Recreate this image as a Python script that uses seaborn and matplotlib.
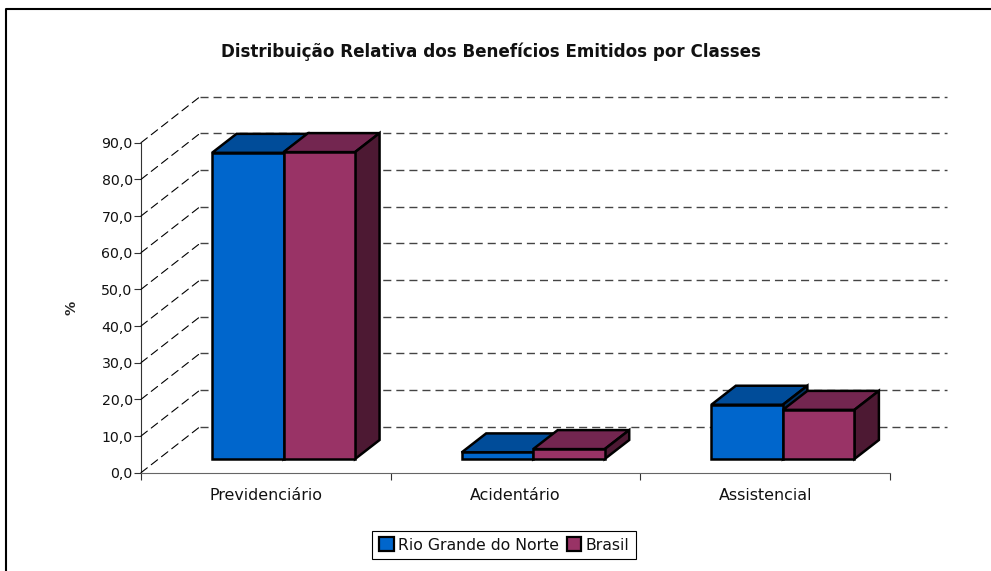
import pandas as pd
import numpy as np
import matplotlib.pyplot as plt
import seaborn as sns
from matplotlib.lines import Line2D
from matplotlib.patches import Patch, Polygon, ConnectionPatch

categories = ['Previdenciário', 'Acidentário', 'Assistencial']
series_names = ['Rio Grande do Norte', 'Brasil']
rn_values = [83.5, 1.8, 14.8]
br_values = [83.7, 2.7, 13.4]
y_ticks = [0, 10, 20, 30, 40, 50, 60, 70, 80, 90]

W, H = 991, 571
front_col = ['#0066cc', '#993366']
top_col = ['#004c99', '#732650']
side_col = ['#003366', '#4d1933']

sns.set_style('white')
plt.rcParams['font.family'] = ['DejaVu Sans']


def px_axes(fig, left, top, right, bottom):
    return fig.add_axes([left / W, 1 - bottom / H, (right - left) / W, (bottom - top) / H])


df = pd.DataFrame({'classe': categories * 2,
                   'serie': [series_names[0]] * 3 + [series_names[1]] * 3,
                   'valor': rn_values + br_values})

fig = plt.figure(figsize=(W / 100, H / 100), dpi=100)

# back wall, front axis and bars each get their own axes, shifted to fake the depth
ax_back = px_axes(fig, 200, 96.7, 947, 426.7)
ax = px_axes(fig, 141, 142.7, 890, 472.7)
ax_bars = px_axes(fig, 158.7, 129, 907.7, 459)

for a in (ax_back, ax, ax_bars):
    a.set_xlim(-0.5, 2.5)
    a.set_ylim(0, 90)
    a.patch.set_alpha(0)

ax_back.axis('off')
for v in y_ticks:
    ax_back.plot([-0.5, 2.5], [v, v], color='#444444', lw=1.0, dashes=(5.8, 3.6), clip_on=False)

sns.despine(ax=ax)
ax.spines['left'].set_color('#333333')
ax.spines['bottom'].set_color('#666666')
ax.set_yticks(y_ticks, [f'{v:.1f}'.replace('.', ',') for v in y_ticks])
ax.set_xticks(range(len(categories)), categories)
ax.set_xticks(np.arange(len(categories) + 1) - 0.5, minor=True)
ax.tick_params(axis='x', which='major', length=0, labelsize=11.4, pad=11, colors='#111111')
ax.tick_params(axis='x', which='minor', length=5, width=0.8, color='#333333', bottom=True)
ax.tick_params(axis='y', length=5, width=0.8, color='#333333', labelsize=10.2, pad=1,
               left=True, labelcolor='#111111')
ax.set_ylabel('%', fontsize=10.2, fontweight='bold', labelpad=0)
ax.yaxis.set_label_coords((78 - 141) / 749, 0.5)

for v in y_ticks:
    fig.add_artist(ConnectionPatch(xyA=(-0.5, v), coordsA=ax.transData,
                                   xyB=(-0.5, v), coordsB=ax_back.transData,
                                   color='black', lw=0.8, linestyle=(0, (7.2, 4.5))))

sns.barplot(data=df, x='classe', y='valor', hue='serie', order=categories,
            hue_order=series_names, palette=front_col, width=0.573, gap=0,
            edgecolor='black', linewidth=1.8, saturation=1, legend=False, ax=ax_bars)
ax_bars.axis('off')
ax_bars.set_xlim(-0.5, 2.5)
ax_bars.set_ylim(0, 90)

dx = 24.5 / 249.7
dy = 19 / 3.667
for k, bars in enumerate(ax_bars.containers):
    for b in bars:
        x0, x1 = b.get_x(), b.get_x() + b.get_width()
        y1 = b.get_height()
        b.set_zorder(3 + k * 3 + 0.2)
        b.set_clip_on(False)
        ax_bars.add_patch(Polygon([(x0, y1), (x1, y1), (x1 + dx, y1 + dy), (x0 + dx, y1 + dy)],
                                  fc=top_col[k], ec='black', lw=1.8, joinstyle='miter',
                                  clip_on=False, zorder=3 + k * 3))
        ax_bars.add_patch(Polygon([(x1, 0), (x1, y1), (x1 + dx, y1 + dy), (x1 + dx, dy)],
                                  fc=side_col[k], ec='black', lw=1.8, joinstyle='miter',
                                  clip_on=False, zorder=3 + k * 3))

fig.text(490.5 / W, 1 - 52 / H, 'Distribuição Relativa dos Benefícios Emitidos por Classes',
         ha='center', va='center', fontsize=12.05, fontweight='bold', color='#111111')

handles = [Patch(fc=c, ec='black', lw=1.6) for c in front_col]
fig.legend(handles, series_names, loc='center', bbox_to_anchor=(504 / W, 1 - 545 / H),
           ncol=2, frameon=True, fancybox=False, edgecolor='black', framealpha=1,
           fontsize=11.3, handlelength=0.95, handleheight=1, handletextpad=0.25,
           columnspacing=0.5, borderpad=0.42, labelcolor='#111111').get_frame().set_linewidth(0.8)

# chart area border: only top and left fall inside the picture
fig.add_artist(Line2D([6 / W, 6 / W, 1], [0, 1 - 8.5 / H, 1 - 8.5 / H], color='black', lw=1.5))

fig.savefig('out.png', dpi=100)
